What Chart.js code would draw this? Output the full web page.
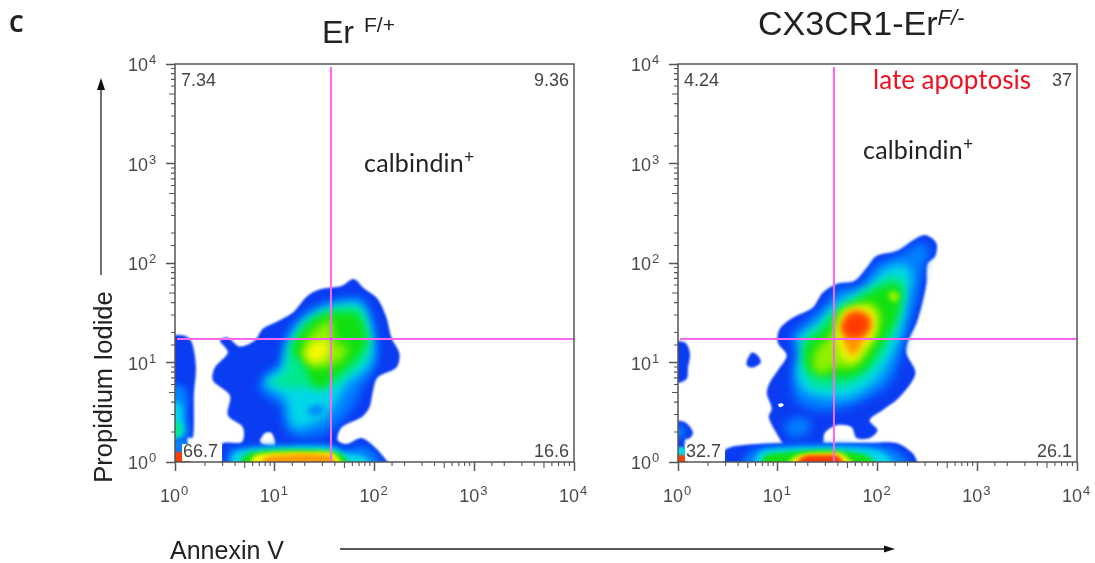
<!DOCTYPE html>
<html>
<head>
<meta charset="utf-8">
<script src="https://cdn.jsdelivr.net/npm/chart.js@4/dist/chart.umd.js"></script>
<style>
  html, body { margin: 0; padding: 0; background: #fff; width: 1095px; height: 563px; overflow: hidden; }
  canvas { position: absolute; top: 0; }
  .t { position: absolute; white-space: nowrap; line-height: 1; }
  .arial { font-family: "Liberation Sans", sans-serif; color: #222; }
  .calibri { font-family: Lato, sans-serif; color: #222; }
  sup { font-size: 70%; line-height: 0; }
  svg { position: absolute; left: 0; top: 0; }
</style>
</head>
<body>
<canvas id="plotLeft" width="600" height="563" style="left:0;width:600px;height:563px"></canvas>
<canvas id="plotRight" width="495" height="563" style="left:600px;width:495px;height:563px"></canvas>

<div class="t" style="left:9px;top:12px;font-size:23px;font-weight:700;font-family:'Open Sans';color:#222">C</div>
<div class="t arial" style="left:322px;top:16px;font-size:32px">Er<span style="font-size:21px;position:relative;top:-11px;left:10px">F/+</span></div>
<div class="t arial" style="left:758px;top:6px;font-size:34px">CX3CR1-Er<span style="font-size:22px;font-style:italic;position:relative;top:-10px">F/-</span></div>
<div class="t calibri" style="left:364px;top:150px;font-size:25px;letter-spacing:.2px">calbindin<sup>+</sup></div>
<div class="t calibri" style="left:863px;top:137px;font-size:25px;letter-spacing:.2px">calbindin<sup>+</sup></div>
<div class="t calibri" style="left:873px;top:66px;font-size:26px;color:#f01020">late apoptosis</div>
<div class="t arial" style="left:170px;top:538px;font-size:25px">Annexin V</div>
<div class="t arial" style="left:104px;top:387px;font-size:25.5px;transform:translate(-50%,-50%) rotate(-90deg)">Propidium Iodide</div>

<svg width="1095" height="563">
  <line x1="101" y1="275" x2="101" y2="86" stroke="#222" stroke-width="1.3"/>
  <polygon points="101,78 97,90 105,90" fill="#111"/>
  <line x1="340" y1="549" x2="887" y2="549" stroke="#222" stroke-width="1.3"/>
  <polygon points="895,549 884,545.5 884,552.5" fill="#111"/>
</svg>

<script>
// contour outlines, [log10 Annexin V, log10 Propidium Iodide]
const leftOuter = [[.47,-.1],[.47,.18],[.67,.20],[.68,.35],[.53,.47],[.55,.67],[.38,.82],[.40,.95],[.53,1.10],[.45,1.22],[.53,1.25],[.65,1.16],[.80,1.22],[.88,1.34],[1.00,1.40],[1.18,1.50],[1.33,1.67],[1.47,1.74],[1.67,1.77],[1.79,1.84],[1.90,1.74],[2.03,1.64],[2.12,1.45],[2.17,1.25],[2.25,1.09],[2.22,.95],[2.03,.85],[1.98,.69],[1.95,.55],[1.87,.45],[1.67,.35],[1.63,.22],[1.72,.18],[1.87,.24],[2.00,.15],[2.13,0],[2.17,-.1]];
const leftHole = [[.85,.22],[.90,.29],[.97,.29],[1.00,.17],[.87,.18]];
const leftStrip = [[-.1,1.27],[.10,1.27],[.17,1.20],[.21,.95],[.19,.69],[.18,.25],[.12,.24],[.12,-.1],[-.1,-.1]];
const leftAzure = [[.83,.74],[.90,.87],[1.05,.99],[1.08,1.19],[1.22,1.42],[1.43,1.57],[1.67,1.64],[1.87,1.64],[1.98,1.45],[2.02,1.22],[2.03,1.05],[1.97,.89],[1.87,.75],[1.80,.59],[1.70,.45],[1.50,.29],[1.23,.25],[1.10,.35],[1.07,.55],[.93,.65]];
const leftCyan = [[.90,.77],[.93,.85],[1.07,.94],[1.12,1.15],[1.23,1.37],[1.43,1.52],[1.67,1.59],[1.85,1.59],[1.94,1.42],[1.98,1.19],[1.97,1.02],[1.87,.89],[1.73,.79],[1.67,.69],[1.63,.62],[1.50,.45],[1.23,.34],[1.15,.42],[1.13,.59],[1.03,.70]];
const leftDip = [[1.32,.52],[1.40,.57],[1.50,.55],[1.47,.49],[1.37,.47]];
const leftTeal = [[.93,.79],[1.10,.90],[1.15,1.14],[1.27,1.35],[1.47,1.49],[1.67,1.55],[1.83,1.55],[1.92,1.39],[1.95,1.19],[1.90,1.02],[1.70,.85],[1.57,.75],[1.37,.74],[1.17,.74]];
const leftGreen = [[1.30,.99],[1.18,1.10],[1.20,1.20],[1.33,1.39],[1.50,1.49],[1.70,1.50],[1.83,1.49],[1.89,1.35],[1.92,1.20],[1.77,.99],[1.60,.85],[1.47,.74],[1.37,.79]];
const leftLime = [[1.27,1.09],[1.33,1.25],[1.47,1.39],[1.57,1.42],[1.60,1.22],[1.73,1.15],[1.67,1.02],[1.47,.95],[1.35,.97]];
const leftYellow = [[1.30,1.09],[1.38,1.19],[1.50,1.22],[1.55,1.14],[1.48,1.03],[1.37,1.00]];
const leftBandAzure = [[.53,-.1],[.53,.10],[.67,.15],[1.07,.17],[1.57,.17],[1.67,.12],[1.90,.15],[2.03,.05],[2.07,-.1]];
const leftBandCyan = [[.57,-.1],[.58,.07],[.70,.12],[1.07,.15],[1.57,.15],[1.70,.09],[1.90,.05],[1.98,-.1]];
const leftBandGreen = [[.65,-.1],[.68,.05],[.80,.10],[1.23,.12],[1.60,.10],[1.70,.05],[1.77,-.1]];
const leftBandYellow = [[.75,-.1],[.78,.05],[.93,.09],[1.37,.10],[1.60,.08],[1.68,-.1]];
const leftBandOrange = [[.85,-.1],[.90,.04],[1.10,.07],[1.33,.08],[1.57,.05],[1.62,-.1]];
const leftStripAzure = [[-.1,.79],[.10,.75],[.13,.62],[.12,.45],[.13,.25],[-.1,.22]];
const leftStripCyan = [[-.1,.62],[.05,.59],[.08,.42],[.09,.29],[.03,.25],[-.1,.26]];
const leftStripGreen = [[-.1,.42],[.05,.39],[.07,.29],[.02,.25],[-.1,.25]];
const leftCornerAzure = [[-.1,.2],[.12,.2],[.12,-.1],[-.1,-.1]];
const leftCornerOrange = [[-.1,.09],[.12,.09],[.12,-.1],[-.1,-.1]];

const rightOuter = [[1.07,.15],[.97,.32],[.91,.45],[.94,.54],[.89,.69],[.92,.80],[1.00,.92],[1.09,1.07],[1.00,1.20],[1.02,1.34],[1.15,1.45],[1.35,1.55],[1.45,1.70],[1.59,1.79],[1.77,1.82],[1.89,1.95],[1.99,2.07],[2.19,2.12],[2.39,2.25],[2.49,2.28],[2.59,2.20],[2.58,2.07],[2.50,1.99],[2.49,1.79],[2.40,1.42],[2.30,1.20],[2.29,1.09],[2.38,.89],[2.22,.65],[2.05,.52],[1.92,.42],[2.00,.32],[1.92,.24],[1.79,.24],[1.74,.35],[1.59,.37],[1.47,.29],[1.44,.15]];
const rightBand = [[.47,-.1],[.47,.12],[.79,.18],[1.42,.19],[1.92,.19],[2.19,.19],[2.35,.09],[2.40,0],[2.43,-.1]];
const rightStripTop = [[-.1,1.22],[.07,1.20],[.12,1.09],[.10,.95],[.09,.84],[.02,.80],[-.1,.80]];
const rightStripLow = [[-.1,.42],[.07,.40],[.15,.30],[.12,.24],[.07,.22],[.07,-.1],[-.1,-.1]];
const rightDot = [[.69,1.02],[.74,1.10],[.80,1.07],[.83,1.00],[.75,.95],[.69,.97]];
const rightPin = [[1.00,.58],[1.04,.59],[1.06,.57],[1.02,.55]];
const rightAzure = [[1.14,1.29],[1.35,1.47],[1.50,1.60],[1.60,1.74],[1.82,1.77],[2.00,1.99],[2.25,2.09],[2.42,2.20],[2.53,2.14],[2.47,1.99],[2.40,1.65],[2.30,1.32],[2.22,1.02],[2.12,.79],[1.92,.65],[1.65,.54],[1.39,.52],[1.20,.60],[1.14,.82],[1.17,1.02]];
const rightLowBlob = [[1.07,.39],[1.19,.45],[1.32,.42],[1.32,.32],[1.19,.25],[1.09,.29]];
const rightCyan = [[1.20,1.27],[1.39,1.40],[1.55,1.57],[1.69,1.67],[1.89,1.75],[2.05,1.92],[2.25,1.99],[2.34,1.89],[2.30,1.62],[2.24,1.32],[2.12,1.02],[1.99,.82],[1.72,.65],[1.45,.65],[1.25,.72],[1.19,.92],[1.24,1.09]];
const rightTeal = [[1.24,1.22],[1.42,1.37],[1.59,1.54],[1.75,1.64],[1.95,1.77],[2.15,1.87],[2.27,1.82],[2.24,1.55],[2.15,1.29],[2.02,1.02],[1.82,.82],[1.59,.74],[1.35,.77],[1.24,.95],[1.25,1.09]];
const rightGreen = [[1.27,1.09],[1.29,1.19],[1.47,1.34],[1.59,1.49],[1.79,1.62],[2.02,1.75],[2.19,1.79],[2.24,1.69],[2.19,1.45],[2.05,1.19],[1.89,.95],[1.69,.85],[1.42,.87],[1.29,.95]];
const rightLime = [[1.35,1.02],[1.39,1.14],[1.55,1.29],[1.64,1.50],[1.79,1.57],[1.95,1.59],[2.02,1.49],[1.99,1.29],[1.89,1.09],[1.75,.95],[1.55,.95],[1.47,.89],[1.37,.92]];
const rightSpot = [[2.10,1.67],[2.15,1.72],[2.22,1.67],[2.17,1.60]];
const rightYellow = [[1.59,1.27],[1.64,1.49],[1.79,1.56],[1.94,1.54],[1.99,1.42],[1.95,1.25],[1.85,1.12],[1.79,1.02],[1.69,1.02],[1.62,1.12]];
const rightOrange = [[1.62,1.35],[1.69,1.49],[1.80,1.53],[1.92,1.47],[1.94,1.35],[1.87,1.24],[1.80,1.10],[1.74,1.07],[1.67,1.17],[1.65,1.29]];
const rightRed = [[1.64,1.35],[1.70,1.47],[1.80,1.50],[1.90,1.45],[1.92,1.37],[1.87,1.29],[1.79,1.25],[1.69,1.27]];
const rightBandAzure = [[.59,-.1],[.72,.10],[.92,.15],[1.42,.18],[1.85,.17],[2.09,.15],[2.25,.07],[2.34,-.1]];
const rightBandCyan = [[.75,-.1],[.82,.10],[1.12,.14],[1.59,.15],[1.92,.13],[2.09,.07],[2.19,-.1]];
const rightBandGreen = [[.82,-.1],[.87,.06],[1.12,.10],[1.45,.12],[1.72,.10],[1.92,.05],[2.00,-.1]];
const rightBandYellow = [[1.02,-.1],[1.19,.06],[1.45,.09],[1.65,.08],[1.79,-.1]];
const rightBandOrange = [[1.15,-.1],[1.22,.05],[1.45,.08],[1.62,.06],[1.70,-.1]];
const rightBandRed = [[1.19,-.1],[1.25,.04],[1.45,.06],[1.60,.05],[1.67,-.1]];
const rightStripAzure = [[-.1,.38],[.04,.36],[.07,.28],[.03,.24],[-.1,.22]];
const rightCornerCyan = [[-.1,.14],[.07,.14],[.07,-.1],[-.1,-.1]];
const rightCornerRed = [[-.1,.06],[.07,.06],[.07,-.1],[-.1,-.1]];

// quadrant gates
const gateX = 36.6;
const gateY = 17.2;

const tickDecades = [1, 10, 100, 1000, 10000];
const tickExponents = ['0', '1', '2', '3', '4'];

const leftPercents = ['7.34', '9.36', '66.7', '16.6'];
const rightPercents = ['4.24', '37', '32.7', '26.1'];

// level colours, low density to high
const BLUE = '#0a3cf2';
const AZURE = '#0080ff';
const CYAN = '#00d8e8';
const TEAL = '#00e890';
const GREEN = '#10e010';
const LIME = '#90f000';
const YELLOW = '#f8f800';
const ORANGE = '#ff9a00';
const RED = '#ff3c00';

// outline, colour, edge softness
const leftLayers = [
  [leftOuter, BLUE, 1.2], [leftStrip, BLUE, 1.2], [leftHole, '#ffffff', 1.2],
  [leftAzure, AZURE, 5], [leftCyan, CYAN, 5], [leftDip, AZURE, 3], [leftTeal, TEAL, 4],
  [leftGreen, GREEN, 4], [leftLime, LIME, 5], [leftYellow, YELLOW, 4],
  [leftBandAzure, AZURE, 3], [leftBandCyan, CYAN, 2.5], [leftBandGreen, GREEN, 2.5],
  [leftBandYellow, YELLOW, 2], [leftBandOrange, ORANGE, 2],
  [leftStripAzure, AZURE, 3], [leftStripCyan, CYAN, 3], [leftStripGreen, TEAL, 2],
  [leftCornerAzure, AZURE, 1], [leftCornerOrange, RED, 1]
];

const rightLayers = [
  [rightOuter, BLUE, 1.2], [rightBand, BLUE, 1.2], [rightStripTop, BLUE, 1.2], [rightStripLow, BLUE, 1.2], [rightDot, BLUE, 1.2], [rightPin, '#ffffff', .5],
  [rightLowBlob, AZURE, 5], [rightAzure, AZURE, 5], [rightCyan, CYAN, 5], [rightTeal, TEAL, 4],
  [rightGreen, GREEN, 4], [rightLime, LIME, 4], [rightSpot, LIME, 2], [rightYellow, YELLOW, 4],
  [rightOrange, ORANGE, 3], [rightRed, RED, 3],
  [rightBandAzure, AZURE, 3], [rightBandCyan, CYAN, 2.5], [rightBandGreen, GREEN, 2],
  [rightBandYellow, YELLOW, 2], [rightBandOrange, ORANGE, 1.5], [rightBandRed, RED, 1.5],
  [rightStripAzure, AZURE, 3], [rightCornerCyan, CYAN, 1], [rightCornerRed, RED, 1]
];

function isDecade(v) {
  return tickDecades.includes(Math.round(v * 1000) / 1000);
}

function buildDatasets(layers) {
  return layers.map(function(layer, i) {
    const pts = layer[0].map(p => ({ x: Math.pow(10, p[0]), y: Math.pow(10, p[1]) }));
    pts.push(pts[0]);
    return {
      data: pts,
      showLine: true,
      fill: 'shape',
      backgroundColor: layer[1],
      borderWidth: 0,
      pointRadius: 0,
      tension: 0.3,
      order: -i,
      soft: layer[2]
    };
  });
}

// filler has to run after this one so it picks up the blur
Chart.unregister(Chart.Filler);
Chart.register({
  id: 'softEdges',
  beforeDatasetDraw(chart, args) {
    chart.ctx.filter = 'blur(' + chart.data.datasets[args.index].soft + 'px)';
  },
  afterDatasetDraw(chart) {
    chart.ctx.filter = 'none';
  }
});
Chart.register(Chart.Filler);

// gates, minor ticks, frame, decade labels and percent labels
const flowPlugin = {
  id: 'flow',
  afterDraw(chart, args, opts) {
    const ctx = chart.ctx;
    const a = chart.chartArea;
    const xs = chart.scales.x;
    const ys = chart.scales.y;
    ctx.save();

    ctx.strokeStyle = '#ff66ee';
    ctx.lineWidth = 2;
    ctx.beginPath();
    const gx = xs.getPixelForValue(gateX);
    const gy = ys.getPixelForValue(gateY);
    ctx.moveTo(gx, a.top + 3);
    ctx.lineTo(gx, a.bottom);
    ctx.moveTo(a.left + 2, gy);
    ctx.lineTo(a.right, gy);
    ctx.stroke();

    ctx.strokeStyle = '#555';
    ctx.lineWidth = 1.5;
    ctx.strokeRect(a.left, a.top, a.right - a.left, a.bottom - a.top);

    ctx.beginPath();
    ctx.lineWidth = 1.1;
    xs.ticks.forEach(function(t) {
      if (isDecade(t.value)) return;
      const len = String(t.value)[0] === '5' ? 6 : 4;
      const p = xs.getPixelForValue(t.value);
      ctx.moveTo(p, a.bottom);
      ctx.lineTo(p, a.bottom + len);
    });
    ys.ticks.forEach(function(t) {
      if (isDecade(t.value)) return;
      const len = String(t.value)[0] === '5' ? 6 : 4;
      const p = ys.getPixelForValue(t.value);
      ctx.moveTo(a.left, p);
      ctx.lineTo(a.left - len, p);
    });
    ctx.stroke();

    // 10 with a raised exponent, the unicode superscripts come out too small
    ctx.fillStyle = '#4a4a4a';
    ctx.textBaseline = 'alphabetic';
    tickDecades.forEach(function(v, i) {
      ctx.font = '18px "Liberation Sans"';
      const w = ctx.measureText('10').width;
      ctx.textAlign = 'left';
      const px = xs.getPixelForValue(v);
      const py = ys.getPixelForValue(v);
      ctx.fillText('10', px - 15, a.bottom + 40);
      ctx.fillText('10', a.left - 47, py + 7);
      ctx.font = '13px "Liberation Sans"';
      ctx.fillText(tickExponents[i], px - 15 + w + 1, a.bottom + 33);
      ctx.fillText(tickExponents[i], a.left - 47 + w + 1, py);
    });

    ctx.font = '18px "Liberation Sans"';
    ctx.textBaseline = 'middle';
    const pct = opts.percents;
    ctx.fillStyle = '#ffffff';
    ctx.fillRect(a.left + 7, a.bottom - 18, 40, 17);
    ctx.fillStyle = '#444';
    ctx.textAlign = 'left';
    ctx.fillText(pct[0], a.left + 6, a.top + 17);
    ctx.fillText(pct[2], a.left + 8, a.bottom - 10);
    ctx.textAlign = 'right';
    ctx.fillText(pct[1], a.right - 5, a.top + 17);
    ctx.fillText(pct[3], a.right - 5, a.bottom - 10);
    ctx.restore();
  }
};

function logAxis(fitSide, fitSize) {
  return {
    type: 'logarithmic',
    min: 1,
    max: 10000,
    afterFit(scale) { scale[fitSide] = fitSize; },
    border: { display: false },
    grid: {
      drawOnChartArea: false,
      drawTicks: true,
      tickLength: 9,
      tickWidth: 1.5,
      tickColor: ctx => (ctx.tick && isDecade(ctx.tick.value)) ? '#555' : 'rgba(0,0,0,0)'
    },
    ticks: { display: false, autoSkip: false }
  };
}

function makeChart(id, layers, yWidth, rightPad, percents) {
  return new Chart(document.getElementById(id), {
    type: 'scatter',
    data: { datasets: buildDatasets(layers) },
    plugins: [flowPlugin],
    options: {
      responsive: false,
      animation: false,
      layout: { padding: { top: 64, right: rightPad, left: 0, bottom: 0 } },
      plugins: {
        legend: { display: false },
        tooltip: { enabled: false },
        flow: { percents: percents }
      },
      scales: {
        x: logAxis('height', 101),
        y: logAxis('width', yWidth)
      }
    }
  });
}

makeChart('plotLeft', leftLayers, 175, 26, leftPercents);
makeChart('plotRight', rightLayers, 78, 18, rightPercents);
</script>
</body>
</html>
